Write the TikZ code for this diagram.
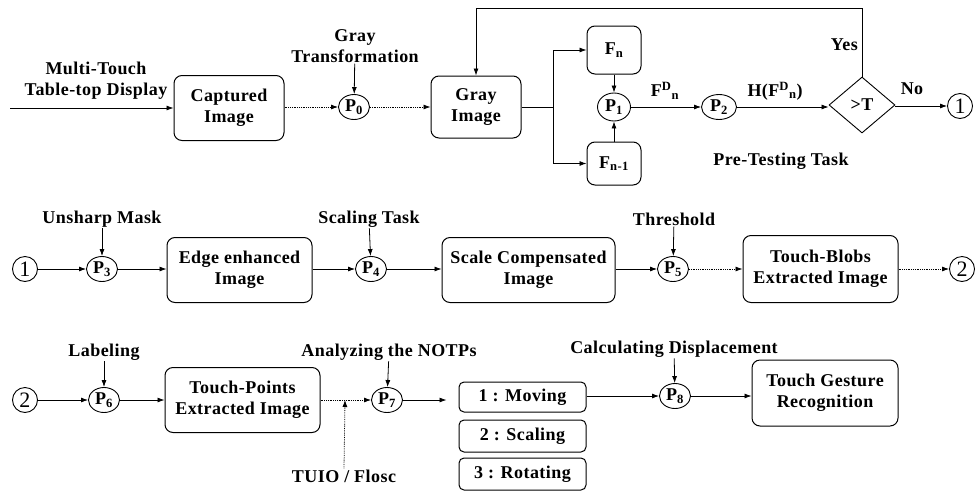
\documentclass[tikz,border=0pt]{standalone}
\usepackage{fontspec}
\setmainfont{Liberation Serif}[BoldFont={Liberation Serif Bold},LetterSpace=2.5]
\newfontfamily\numfont{Liberation Serif}
\usetikzlibrary{arrows.meta,shapes.geometric}
\begin{document}
\begin{tikzpicture}[x=1pt,y=-1pt,
  font=\fontsize{18}{21}\selectfont\bfseries,
  box/.style={draw,line width=1pt,rounded corners=8pt,align=center,inner sep=0pt},
  pnode/.style={draw,ellipse,line width=0.9pt,minimum width=31pt,minimum height=25pt,inner sep=0pt},
  numc/.style={draw,circle,line width=0.9pt,minimum size=25pt,inner sep=0pt,font=\numfont\fontsize{22}{22}\selectfont},
  lbl/.style={inner sep=1pt,align=center},
  arr/.style={-{Latex[length=7pt,width=5pt]},line width=0.8pt},
  darr/.style={arr,densely dotted},
  ln/.style={line width=0.8pt}]
\useasboundingbox (0,0) rectangle (979,490);

% ---------- Row 1 ----------
\coordinate (in) at (10,108);
\node[lbl] (mt) at (96,81) {Multi-Touch\\Table-top Display};
\node[box,minimum width=110pt,minimum height=65pt] (cap) at (229,108) {Captured\\Image};
\node[pnode] (p0) at (354,107) {P\textsubscript{0}};
\node[lbl] (gt) at (355,46) {Gray\\Transformation};
\node[box,minimum width=90pt,minimum height=62pt] (gray) at (476,107) {Gray\\Image};
\coordinate (br) at (553,107);
\node[box,minimum width=54pt,minimum height=48pt] (fn) at (614,50) {F\textsubscript{n}};
\node[box,minimum width=54pt,minimum height=43pt] (fnm) at (614,163.5) {F\textsubscript{n-1}};
\node[pnode,minimum width=33pt,minimum height=28pt] (p1) at (614,107) {P\textsubscript{1}};
\node[pnode,minimum width=35pt] (p2) at (719,107) {P\textsubscript{2}};
\node[draw,diamond,line width=0.9pt,minimum width=66pt,minimum height=56pt,inner sep=0pt] (dia) at (862,105) {>T};
\node[numc] (c1a) at (960,106) {1};
\coordinate (top) at (862,8);
\node[lbl] (fd) at (665,91) {F\textsuperscript{D}\textsubscript{n}};
\node[lbl] (hf) at (775,91) {H(F\textsuperscript{D}\textsubscript{n})};
\node[lbl,anchor=east] (yes) at (859,45) {Yes};
\node[lbl] (no) at (912,89) {No};
\node[lbl] (pt) at (781,161) {Pre-Testing Task};

\draw[arr] (in) -- (in -| cap.west);
\draw[darr] (cap.east |- p0) -- (p0);
\draw[arr] (gt) -- (p0);
\draw[darr] (p0) -- (gray);
\draw[ln] (gray) -- (br);
\draw[arr] (br) |- (fn.west);
\draw[arr] (br) |- (fnm.west);
\draw[arr] (fn) -- (p1);
\draw[arr] (fnm) -- (p1);
\draw[arr] (p1) -- (p2);
\draw[arr] (p2) -- (p2 -| dia.west);
\draw[arr] (dia.north) -- (top) -| (gray.north);
\draw[arr] (dia.east |- c1a) -- (c1a);

% ---------- Row 2 ----------
\node[numc] (c1b) at (25,269) {1};
\node[pnode] (p3) at (102,269) {P\textsubscript{3}};
\node[lbl] (um) at (102,219) {Unsharp Mask};
\node[box,minimum width=145pt,minimum height=65pt] (edge) at (239.5,270) {Edge enhanced\\Image};
\node[pnode] (p4) at (371,269) {P\textsubscript{4}};
\node[lbl] (st) at (369,219) {Scaling Task};
\node[box,minimum width=173pt,minimum height=65pt] (scale) at (528.5,270) {Scale Compensated\\Image};
\node[pnode] (p5) at (673,269) {P\textsubscript{5}};
\node[lbl] (th) at (674,219) {Threshold};
\node[box,minimum width=155pt,minimum height=67pt] (blob) at (820.5,269) {Touch-Blobs\\Extracted Image};
\node[numc] (c2a) at (962,269) {2};

\draw[arr] (c1b) -- (p3);
\draw[arr] (um) -- (p3);
\draw[arr] (p3) -- (p3 -| edge.west);
\draw[arr] (p4 -| edge.east) -- (p4);
\draw[arr] (st) -- (p4);
\draw[arr] (p4) -- (p4 -| scale.west);
\draw[arr] (p5 -| scale.east) -- (p5);
\draw[arr] (th) -- (p5);
\draw[darr] (p5) -- (blob);
\draw[darr] (blob) -- (c2a);

% ---------- Row 3 ----------
\node[numc] (c2b) at (25,400) {2};
\node[pnode] (p6) at (104,400) {P\textsubscript{6}};
\node[lbl] (lab) at (104,352) {Labeling};
\node[box,minimum width=155pt,minimum height=65pt] (tp) at (242.5,400) {Touch-Points\\Extracted Image};
\node[pnode] (p7) at (387,400) {P\textsubscript{7}};
\node[lbl] (an) at (389,352) {Analyzing the NOTPs};
\node[lbl] (tuio) at (344,476) {TUIO / Flosc};
\coordinate (tj) at (345,400);
\node[box,rounded corners=5pt,minimum width=127pt,minimum height=30pt] (mov) at (522.5,397) {1 : Moving};
\node[box,rounded corners=5pt,minimum width=127pt,minimum height=32pt] (scl) at (522.5,436) {2 : Scaling};
\node[box,rounded corners=5pt,minimum width=127pt,minimum height=32pt] (rot) at (522.5,474) {3 : Rotating};
\node[pnode] (p8) at (675,396) {P\textsubscript{8}};
\node[lbl] (cd) at (674,349) {Calculating Displacement};
\node[box,minimum width=146pt,minimum height=66pt] (tg) at (825,393) {Touch Gesture\\Recognition};

\draw[arr] (c2b) -- (p6);
\draw[arr] (lab) -- (p6);
\draw[arr] (p6) -- (p6 -| tp.west);
\draw[darr] (tp.east |- p7) -- (p7);
\draw[darr] (tuio.north) -- (tj);
\draw[arr] (an) -- (p7);
\draw[arr,shorten >=12pt] (p7) -- (p7 -| mov.west);
\draw[arr] (mov.east |- p8) -- (p8);
\draw[arr] (cd) -- (p8);
\draw[arr] (p8) -- (p8 -| tg.west);
\end{tikzpicture}
\end{document}
